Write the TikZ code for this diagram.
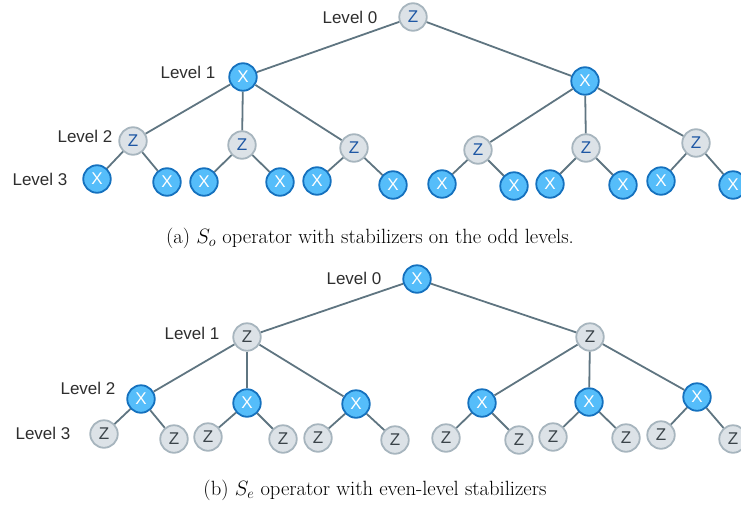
\documentclass[tikz,border=0pt]{standalone}
\usepackage{fontspec}
\setsansfont{Liberation Sans}
\begin{document}
\begin{tikzpicture}[x=1pt,y=-1pt,
  xnode/.style={circle,draw=xborder,fill=xfill,line width=1.8pt,minimum size=27.5pt,inner sep=0pt,
    font=\sffamily\fontsize{17}{17}\selectfont,text=white},
  znode/.style={circle,draw=zborder,fill=zfill,line width=1.8pt,minimum size=27.5pt,inner sep=0pt,
    font=\sffamily\fontsize{17}{17}\selectfont,text=zblue},
  zgnode/.style={znode,text=zgray},
  lvl/.style={font=\sffamily\fontsize{17}{17}\selectfont,text=labelgray,inner sep=0pt},
  conn/.style={draw=edgecol,line width=1.8pt},
  captext/.style={font=\fontsize{20.6}{22}\selectfont,inner sep=0pt}]
\definecolor{xfill}{HTML}{55BDFA}
\definecolor{xborder}{HTML}{1571BE}
\definecolor{zfill}{HTML}{DCE2E7}
\definecolor{zborder}{HTML}{A7B5BE}
\definecolor{zblue}{HTML}{1E57A4}
\definecolor{zgray}{HTML}{3A4349}
\definecolor{edgecol}{HTML}{5F7581}
\definecolor{labelgray}{HTML}{2E2E2E}
\useasboundingbox (0,0) rectangle (741,506);
\clip (0,0) rectangle (741,506);

% ---- tree (a): Z at even depth, X at odd depth ----
\node[znode] (a0) at (413,17) {Z};
\node[xnode] (a1) at (243,77) {X};
\node[xnode] (a2) at (585,81) {X};
\node[znode] (a11) at (133,141) {Z};
\node[znode] (a12) at (242,145) {Z};
\node[znode] (a13) at (354,148) {Z};
\node[znode] (a21) at (478,150) {Z};
\node[znode] (a22) at (586,148) {Z};
\node[znode] (a23) at (696,143) {Z};
\node[xnode] (a111) at (97,179) {X};
\node[xnode] (a112) at (167,182) {X};
\node[xnode] (a121) at (204,182) {X};
\node[xnode] (a122) at (280,182) {X};
\node[xnode] (a131) at (317,181) {X};
\node[xnode] (a132) at (393,185) {X};
\node[xnode] (a211) at (442,184) {X};
\node[xnode] (a212) at (514,186) {X};
\node[xnode] (a221) at (550,184) {X};
\node[xnode] (a222) at (623,185) {X};
\node[xnode] (a231) at (661,181) {X};
\node[xnode] (a232) at (733,185) {X};

\foreach \p/\c in {a0/a1,a0/a2,a1/a11,a1/a12,a1/a13,a2/a21,a2/a22,a2/a23,
  a11/a111,a11/a112,a12/a121,a12/a122,a13/a131,a13/a132,
  a21/a211,a21/a212,a22/a221,a22/a222,a23/a231,a23/a232}
  \draw[conn] (\p) -- (\c);

\node[lvl] (la0) at (350,17) {Level 0};
\node[lvl] (la1) at (188,72) {Level 1};
\node[lvl] (la2) at (85,136) {Level 2};
\node[lvl] (la3) at (40,179) {Level 3};

\node[captext] (capa) at (370,238) {(a) $S_o$ operator with stabilizers on the odd levels.};

% ---- tree (b): X at even depth, Z at odd depth ----
\node[xnode] (b0) at (417,279) {X};
\node[zgnode] (b1) at (247,337) {Z};
\node[zgnode] (b2) at (590,337) {Z};
\node[xnode] (b11) at (141,399) {X};
\node[xnode] (b12) at (247,403) {X};
\node[xnode] (b13) at (356,404) {X};
\node[xnode] (b21) at (482,403) {X};
\node[xnode] (b22) at (589,402) {X};
\node[xnode] (b23) at (697,397) {X};
\node[zgnode] (b111) at (104,434) {Z};
\node[zgnode] (b112) at (174,439) {Z};
\node[zgnode] (b121) at (208,437) {Z};
\node[zgnode] (b122) at (283,439) {Z};
\node[zgnode] (b131) at (318,438) {Z};
\node[zgnode] (b132) at (395,440) {Z};
\node[zgnode] (b211) at (446,438) {Z};
\node[zgnode] (b212) at (519,440) {Z};
\node[zgnode] (b221) at (553,437) {Z};
\node[zgnode] (b222) at (626,438) {Z};
\node[zgnode] (b231) at (661,435) {Z};
\node[zgnode] (b232) at (733,439) {Z};

\foreach \p/\c in {b0/b1,b0/b2,b1/b11,b1/b12,b1/b13,b2/b21,b2/b22,b2/b23,
  b11/b111,b11/b112,b12/b121,b12/b122,b13/b131,b13/b132,
  b21/b211,b21/b212,b22/b221,b22/b222,b23/b231,b23/b232}
  \draw[conn] (\p) -- (\c);

\node[lvl] (lb0) at (354,278) {Level 0};
\node[lvl] (lb1) at (192,333) {Level 1};
\node[lvl] (lb2) at (88,388) {Level 2};
\node[lvl] (lb3) at (43,433) {Level 3};

\node[captext] (capb) at (375,490) {(b) $S_e$ operator with even-level stabilizers};
\end{tikzpicture}
\end{document}
